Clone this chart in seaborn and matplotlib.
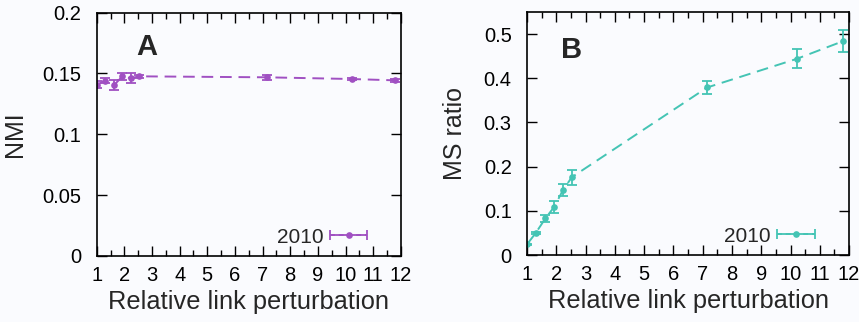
import numpy as np
import pandas as pd
import matplotlib
matplotlib.use("Agg")
import matplotlib.pyplot as plt
import seaborn as sns
from matplotlib.container import ErrorbarContainer
from matplotlib.collections import LineCollection
from matplotlib.legend_handler import HandlerErrorbar
from matplotlib.ticker import MultipleLocator, FuncFormatter

# relative link perturbation (x) for the 2010 data
perturb = [1.0, 1.3, 1.63, 1.93, 2.23, 2.53, 7.15, 10.22, 11.8]

# panel A: NMI
nmi = [0.1407, 0.1440, 0.1405, 0.1476, 0.1460, 0.1476, 0.1468, 0.1454, 0.1443]
nmi_err = [0.003, 0.002, 0.004, 0.003, 0.004, 0.001, 0.002, 0.001, 0.001]

# panel B: MS ratio
ms = [0.024, 0.050, 0.083, 0.109, 0.147, 0.176, 0.379, 0.444, 0.484]
ms_err = [0.002, 0.003, 0.008, 0.014, 0.014, 0.017, 0.014, 0.022, 0.025]

purple = "#a050c2"
teal = "#44c4b4"
bg = "#fafbfe"

sns.set_theme(style="ticks")
plt.rcParams["font.family"] = ["Liberation Sans", "DejaVu Sans"]

fig = plt.figure(figsize=(8.59, 3.22), dpi=100, facecolor=bg)
axA = fig.add_axes([0.1126, 0.205, 0.354, 0.756])
axB = fig.add_axes([0.6135, 0.208, 0.375, 0.755])

panels = [
    (axA, nmi, nmi_err, purple, "NMI", (0, 0.2), 0.05, "A", (0.165, 0.86), 11),
    (axB, ms, ms_err, teal, "MS ratio", (0, 0.55), 0.1, "B", (0.139, 0.845), 12),
]

for ax, vals, errs, col, ylab, ylim, ystep, letter, lpos, ypad in panels:
    ax.set_facecolor(bg)
    df = pd.DataFrame({"x": perturb, "y": vals, "err": errs})
    sns.lineplot(data=df, x="x", y="y", ax=ax, color=col, linestyle=(0, (6, 3.5)),
                 linewidth=1.4, marker="o", markersize=4.8, markeredgewidth=0)
    ax.errorbar(df["x"], df["y"], yerr=df["err"], fmt="none", ecolor=col,
                elinewidth=1.3, capsize=3.5, capthick=1.3)

    # gnuplot-like key: "2010 |-o-|"
    key_line = plt.Line2D([], [], color=col, linestyle=(0, (2.5, 2)), marker="o",
                          markersize=4.8, markeredgewidth=0, linewidth=1.4)
    key_caps = plt.Line2D([], [], color=col, marker="|", markersize=7,
                          markeredgewidth=1.3, linestyle="none")
    key_bar = LineCollection([], colors=col, linewidths=1.3)
    dummy = ErrorbarContainer((key_line, (key_caps,), (key_bar,)),
                              has_xerr=True, has_yerr=False, label="2010")
    ax.legend(handles=[dummy], handler_map={ErrorbarContainer: HandlerErrorbar(xerr_size=0.9)},
              loc="lower right", bbox_to_anchor=(0.945, -0.03), frameon=False,
              markerfirst=False, fontsize=15, handlelength=1.8, handletextpad=0.3,
              borderpad=0.3)

    ax.set_xlim(1, 12)
    ax.set_ylim(*ylim)
    ax.xaxis.set_major_locator(MultipleLocator(1))
    ax.xaxis.set_minor_locator(MultipleLocator(0.5))
    ax.yaxis.set_major_locator(MultipleLocator(ystep))
    ax.yaxis.set_major_formatter(FuncFormatter(lambda v, p: f"{v:g}"))
    ax.tick_params(which="both", direction="in", top=True, right=True,
                   colors="black", labelsize=14.5)
    ax.tick_params(axis="x", pad=7)
    ax.tick_params(axis="y", pad=11)
    ax.tick_params(which="major", length=7, width=1)
    ax.tick_params(which="minor", length=4, width=1)
    for s in ax.spines.values():
        s.set_visible(True)
        s.set_color("black")
        s.set_linewidth(1.2)
    ax.set_xlabel("Relative link perturbation", fontsize=18.3, labelpad=4)
    ax.set_ylabel(ylab, fontsize=18, labelpad=ypad)
    ax.text(lpos[0], lpos[1], letter, transform=ax.transAxes, fontsize=21,
            fontweight="bold", ha="center", va="center")

fig.savefig("out.png", dpi=100, facecolor=bg)
